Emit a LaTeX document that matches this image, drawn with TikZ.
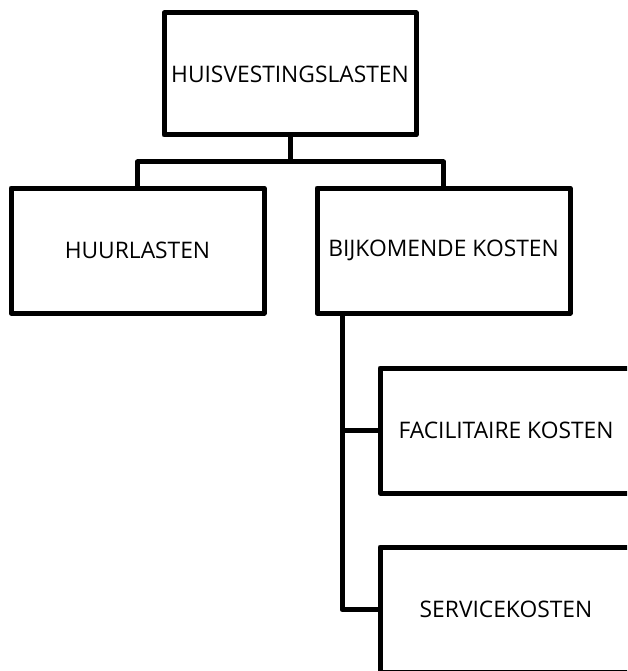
\documentclass[tikz,border=0pt]{standalone}
\usepackage{fontspec}
\setmainfont{Open Sans}
\begin{document}
\begin{tikzpicture}[x=1pt,y=-1pt,
  box/.style={draw=black, line width=5pt, line join=round, fill=white, inner sep=0pt,
    minimum height=125pt, font=\fontsize{22.8}{27}\selectfont},
  conn/.style={draw=black, line width=5pt, line join=round}]
\useasboundingbox (0,0) rectangle (627,671);
\clip (0,0) rectangle (627,671);
\node[box, minimum width=252pt, minimum height=122pt] (top) at (290,74) {HUISVESTINGSLASTEN};
\node[box, minimum width=253pt] (huur) at (137.5,250.5) {HUURLASTEN};
\node[box, minimum width=253pt] (bijk) at (443.5,250.5) {BIJKOMENDE KOSTEN};
\node[box, minimum width=252pt] (fac) at (506,430.5) {FACILITAIRE KOSTEN};
\node[box, minimum width=252pt] (serv) at (506,609.5) {SERVICEKOSTEN};
\coordinate (bar) at (0,162);
\coordinate (spine) at (342,0);
\draw[conn] (top.south) -- (top.south |- bar);
\draw[conn] (huur.north) |- (top.south |- bar) -| (bijk.north);
\draw[conn] (spine |- bijk.south) |- (serv.west);
\draw[conn] (spine |- fac.west) -- (fac.west);
\end{tikzpicture}
\end{document}
